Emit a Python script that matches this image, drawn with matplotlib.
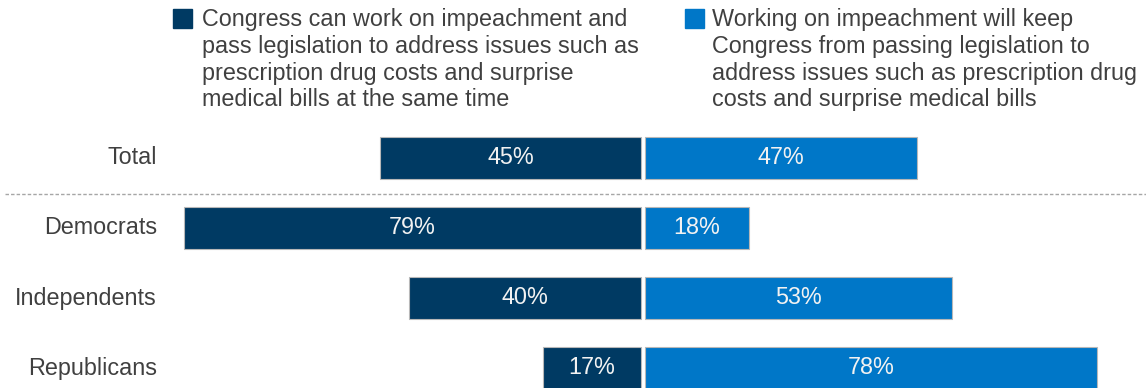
import matplotlib.pyplot as plt
from matplotlib.patches import Rectangle

plt.rcParams['font.family'] = ['Liberation Sans', 'DejaVu Sans']

# Survey shares (%) per group
groups = ['Total', 'Democrats', 'Independents', 'Republicans']
can_work = [45, 79, 40, 17]
will_keep = [47, 18, 53, 78]

legend_left = ('Congress can work on impeachment and\n'
               'pass legislation to address issues such as\n'
               'prescription drug costs and surprise\n'
               'medical bills at the same time')
legend_right = ('Working on impeachment will keep\n'
                'Congress from passing legislation to\n'
                'address issues such as prescription drug\n'
                'costs and surprise medical bills')

dark = '#003a63'
light = '#0077c8'
grey = '#404040'
fs = 16.8

W, H = 1146, 388
fig = plt.figure(figsize=(W / 100, H / 100), dpi=100)
ax = fig.add_axes([0, 0, 1, 1])
ax.axis('off')

# horizontal scale: pixels per percentage point, zero line position
ppp = 5.79
x0 = 643
ax.set_xlim(-x0 / ppp, (W - x0) / ppp)
row = 70.0
y0 = 158
ax.set_ylim((H - y0) / row, -y0 / row)

gap = 0.35
bh = 0.59
ypos = list(range(len(groups)))
ax.barh(ypos, [-v for v in can_work], left=-gap, height=bh, color=dark,
        edgecolor='#b8b8b8', linewidth=0.8)
ax.barh(ypos, will_keep, left=gap, height=bh, color=light,
        edgecolor='#b8b8b8', linewidth=0.8)

for y, a, b in zip(ypos, can_work, will_keep):
    ax.text(-gap - a / 2, y, '%d%%' % a, ha='center', va='center',
            color='#f2f2f2', fontsize=fs)
    ax.text(gap + b / 2, y, '%d%%' % b, ha='center', va='center',
            color='#f2f2f2', fontsize=fs)

tr = ax.get_yaxis_transform()
for y, g in zip(ypos, groups):
    ax.text(157 / W, y, g, transform=tr, ha='right', va='center',
            color=grey, fontsize=fs)

# dashed separator below the total row
ax.plot([5 / W, 1], [(194 - y0) / row] * 2, transform=tr, color='#a6a6a6',
        linestyle=(0, (2.5, 1.5)), linewidth=1.0)

# legend boxes and text
for sx, tx, col, txt in [(173, 202, dark, legend_left),
                         (685, 712, light, legend_right)]:
    fig.patches.append(Rectangle((sx / W, 1 - 28 / H), 19 / W, 19 / H,
                                 transform=fig.transFigure, color=col))
    fig.text(tx / W, 1 - 8 / H, txt, ha='left', va='top', color=grey,
             fontsize=fs, linespacing=1.21)

fig.savefig('out.png', dpi=100)
